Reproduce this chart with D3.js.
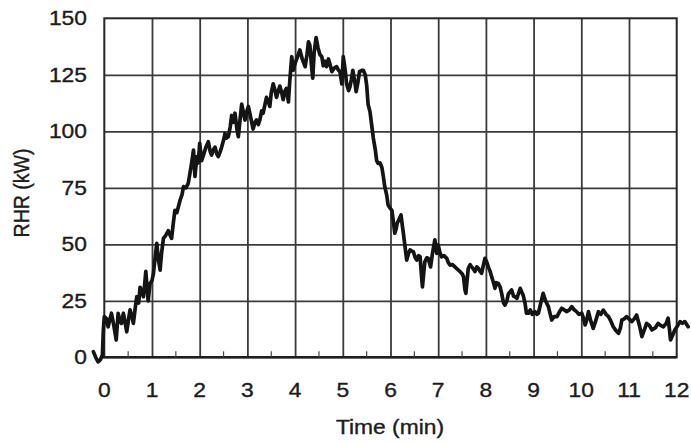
<!DOCTYPE html>
<html>
<head>
<meta charset="utf-8">
<script src="https://cdn.jsdelivr.net/npm/d3@7"></script>
<style>
  html, body { margin: 0; padding: 0; background: #fff; }
  svg { display: block; }
  text { font-family: Arial, "Liberation Sans", Helvetica, sans-serif; fill: #1c1c1c; stroke: #1c1c1c; stroke-width: 0.35px; }
</style>
</head>
<body>
<script>
// Rate of heat release over time
const timeMin = [
  -0.23, -0.18, -0.13, -0.08, -0.04, -0.02, 0.00, 0.05, 0.08, 0.12, 0.15, 0.20, 0.25, 0.29, 0.33, 0.36,
  0.40, 0.44, 0.47, 0.51, 0.54, 0.58, 0.61, 0.65, 0.68, 0.72, 0.75, 0.79, 0.82, 0.85, 0.87, 0.90,
  0.92, 0.96, 1.00, 1.03, 1.07, 1.10, 1.13, 1.17, 1.20, 1.24, 1.29, 1.34, 1.38, 1.41, 1.45, 1.48,
  1.52, 1.59, 1.63, 1.66, 1.71, 1.76, 1.80, 1.83, 1.87, 1.90, 1.94, 1.97, 2.00, 2.04, 2.08, 2.13,
  2.18, 2.22, 2.25, 2.29, 2.32, 2.36, 2.39, 2.43, 2.46, 2.50, 2.53, 2.56, 2.60, 2.64, 2.67, 2.70,
  2.74, 2.78, 2.81, 2.85, 2.88, 2.92, 2.95, 2.99, 3.02, 3.07, 3.12, 3.16, 3.19, 3.23, 3.26, 3.30,
  3.33, 3.37, 3.40, 3.44, 3.47, 3.50, 3.54, 3.58, 3.61, 3.65, 3.68, 3.72, 3.75, 3.79, 3.82, 3.86,
  3.89, 3.91, 3.93, 3.96, 4.00, 4.05, 4.10, 4.15, 4.21, 4.25, 4.28, 4.31, 4.34, 4.37, 4.40, 4.44,
  4.48, 4.52, 4.56, 4.59, 4.63, 4.66, 4.70, 4.74, 4.77, 4.82, 4.87, 4.91, 4.94, 4.98, 5.01, 5.05,
  5.08, 5.12, 5.15, 5.18, 5.21, 5.25, 5.28, 5.32, 5.35, 5.40, 5.43, 5.47, 5.50, 5.53, 5.57, 5.61,
  5.64, 5.68, 5.71, 5.74, 5.78, 5.82, 5.85, 5.88, 5.92, 5.95, 5.99, 6.03, 6.06, 6.09, 6.12, 6.14,
  6.18, 6.22, 6.25, 6.27, 6.31, 6.34, 6.38, 6.41, 6.45, 6.48, 6.52, 6.55, 6.59, 6.62, 6.65, 6.67,
  6.70, 6.72, 6.76, 6.79, 6.84, 6.88, 6.93, 6.97, 7.00, 7.04, 7.07, 7.12, 7.18, 7.21, 7.25, 7.30,
  7.35, 7.40, 7.46, 7.50, 7.53, 7.56, 7.58, 7.61, 7.63, 7.67, 7.70, 7.74, 7.77, 7.81, 7.84, 7.88,
  7.91, 7.95, 7.98, 8.02, 8.05, 8.09, 8.12, 8.16, 8.19, 8.22, 8.26, 8.30, 8.33, 8.37, 8.40, 8.44,
  8.47, 8.51, 8.54, 8.58, 8.61, 8.65, 8.68, 8.72, 8.75, 8.78, 8.82, 8.85, 8.89, 8.93, 8.97, 9.03,
  9.07, 9.10, 9.15, 9.20, 9.25, 9.31, 9.35, 9.38, 9.43, 9.49, 9.54, 9.59, 9.64, 9.69, 9.75, 9.80,
  9.85, 9.90, 9.95, 10.01, 10.05, 10.08, 10.12, 10.15, 10.20, 10.25, 10.30, 10.36, 10.41, 10.46, 10.52, 10.57,
  10.62, 10.67, 10.72, 10.78, 10.82, 10.85, 10.90, 10.95, 11.00, 11.06, 11.11, 11.16, 11.22, 11.27, 11.32, 11.37,
  11.43, 11.48, 11.55, 11.61, 11.67, 11.72, 11.78, 11.82, 11.85, 11.87, 11.92, 11.96, 12.02, 12.07, 12.12, 12.17,
  12.24
];

const rhrKW = [
  2.5, 0, -2, -1, 1, 12, 18, 17, 13.5, 17, 19.5, 14, 7.7, 19.5, 16, 15,
  19.5, 15, 11.3, 17, 21, 18, 15, 22, 26.8, 24, 31, 29, 26.8, 33, 38, 30,
  25, 32.7, 34, 37, 45, 50.4, 44, 38.6, 46, 52.6, 54, 56, 54, 52.6, 60, 65,
  64, 69.6, 72, 75.5, 75, 77, 82, 85.8, 91.7, 80, 88.8, 86, 94.7, 87, 89.5, 93,
  95.4, 91, 89.5, 92, 93, 90, 88.8, 91, 93, 96, 99, 97, 97.6, 102, 107, 104,
  108, 101, 97.6, 106, 112, 108, 105, 109, 111, 106, 101, 104, 105, 103, 105, 109,
  108, 112, 115, 113, 111, 117, 121, 118, 115, 118, 120, 117, 114, 118, 119, 113,
  122.7, 128, 133, 127, 130, 133, 136, 132, 128.6, 134, 139.6, 138, 130, 123.5, 135, 141.5,
  137, 134, 133, 129, 131, 128.6, 132, 129, 126.4, 128, 128.6, 127, 126.4, 121, 133, 127,
  121, 118, 119.7, 123, 127, 122, 117.5, 122, 126.4, 127, 127, 125, 120.5, 112, 108.7, 102,
  97, 92, 87, 85.8, 86, 84, 80, 75.5, 71.8, 67.4, 66, 65, 60, 54.9, 57, 59.3,
  61, 63, 58, 54.9, 48, 43, 46, 47.5, 47, 46.7, 44, 43, 45, 44.5, 36, 31.2,
  38, 42.3, 44, 43.8, 40, 46, 52, 46, 49.7, 46, 44.5, 45, 43.8, 42, 40.8, 41,
  40, 39, 37.9, 37, 35.7, 30, 28.3, 35, 39.4, 41, 40, 39, 37.9, 40, 39.4, 38,
  37.2, 41, 43.8, 42, 40, 38, 35.7, 33, 30.5, 33, 32.7, 31, 28.3, 24, 23.1, 25,
  28, 29, 29.8, 27, 26.8, 26.1, 28, 30.5, 29, 27.6, 24, 19.5, 19.5, 21, 19, 20.2,
  19, 19.5, 24, 28.3, 25, 22.4, 19, 16.5, 18, 18, 20, 21.7, 21, 20.2, 21, 22.4,
  21, 20.2, 19, 19.5, 17, 14.3, 17, 20.2, 16, 12.8, 16, 20.2, 19, 20.9, 19, 18,
  16, 13.5, 12, 10.6, 13, 16.5, 17, 18, 17, 15.8, 17, 18.7, 14, 9.1, 12, 15,
  14, 12.1, 13, 15, 14, 13.5, 15, 17.3, 12, 7.7, 10, 12.1, 14, 15.8, 15, 15.8,
  13.5
];

const xTicks = [0, 1, 2, 3, 4, 5, 6, 7, 8, 9, 10, 11, 12];
const yTicks = [0, 25, 50, 75, 100, 125, 150];
const xMinorTicks = [0.5, 1.5, 2.5, 3.5, 4.5, 5.5, 6.5, 7.5, 8.5, 9.5, 10.5, 11.5];
const xTitle = "Time (min)";
const yTitle = "RHR (kW)";

const W = 691, H = 443;
const plotL = 104.3, plotR = 676.7, plotT = 18.3, plotB = 357.3;
const stretch = 1.17;   // glyphs are set slightly wide
const fontSize = 19.5;

const svg = d3.select("body").append("svg").attr("width", W).attr("height", H);
svg.append("rect").attr("width", W).attr("height", H).attr("fill", "#fff");

const x = d3.scaleLinear().domain([0, 12]).range([plotL, plotR]);
const y = d3.scaleLinear().domain([0, 150]).range([plotB, plotT]);

// vertical grid
const gx = svg.append("g")
  .attr("transform", `translate(0,${plotB})`)
  .call(d3.axisBottom(x).tickValues(xTicks.slice(1, -1)).tickSize(-(plotB - plotT)).tickFormat(""));
gx.select(".domain").remove();
gx.selectAll("line").attr("stroke", "#3a3a3a").attr("stroke-width", 1.8);

// horizontal grid
const gy = svg.append("g")
  .attr("transform", `translate(${plotL},0)`)
  .call(d3.axisLeft(y).tickValues(yTicks.slice(1, -1)).tickSize(-(plotR - plotL)).tickFormat(""));
gy.select(".domain").remove();
gy.selectAll("line").attr("stroke", "#3a3a3a").attr("stroke-width", 1.8);

// plot frame
svg.append("rect")
  .attr("x", plotL).attr("y", plotT)
  .attr("width", plotR - plotL).attr("height", plotB - plotT)
  .attr("fill", "none").attr("stroke", "#262626").attr("stroke-width", 2);

// base line
svg.append("line")
  .attr("x1", plotL - 3).attr("x2", plotR)
  .attr("y1", plotB).attr("y2", plotB)
  .attr("stroke", "#1e1e1e").attr("stroke-width", 2.6);

// half-minute ticks
svg.append("g").selectAll("line")
  .data(xMinorTicks)
  .join("line")
  .attr("x1", d => x(d)).attr("x2", d => x(d))
  .attr("y1", plotB).attr("y2", plotB - 6)
  .attr("stroke", "#444").attr("stroke-width", 1.2);

// tick labels
svg.append("g").selectAll("text")
  .data(yTicks)
  .join("text")
  .attr("transform", d => `translate(87,${y(d)}) scale(${stretch},1)`)
  .attr("dy", "0.36em")
  .attr("text-anchor", "end")
  .attr("font-size", fontSize)
  .text(d => d);

svg.append("g").selectAll("text")
  .data(xTicks)
  .join("text")
  .attr("transform", d => `translate(${x(d)},397) scale(${stretch},1)`)
  .attr("text-anchor", "middle")
  .attr("font-size", fontSize)
  .text(d => d);

// axis titles
svg.append("text")
  .attr("transform", `translate(390,434) scale(${stretch},1)`)
  .attr("text-anchor", "middle")
  .attr("font-size", fontSize)
  .text(xTitle);

svg.append("text")
  .attr("transform", `translate(29,193) scale(${stretch},1) rotate(-90)`)
  .attr("text-anchor", "middle")
  .attr("font-size", fontSize)
  .text(yTitle);

// RHR trace
const series = timeMin.map((t, i) => [t, rhrKW[i]]);
svg.append("path")
  .datum(series)
  .attr("fill", "none")
  .attr("stroke", "#141414")
  .attr("stroke-width", 3.7)
  .attr("stroke-linejoin", "round")
  .attr("stroke-linecap", "round")
  .attr("d", d3.line().x(d => x(d[0])).y(d => y(d[1])));
</script>
</body>
</html>
